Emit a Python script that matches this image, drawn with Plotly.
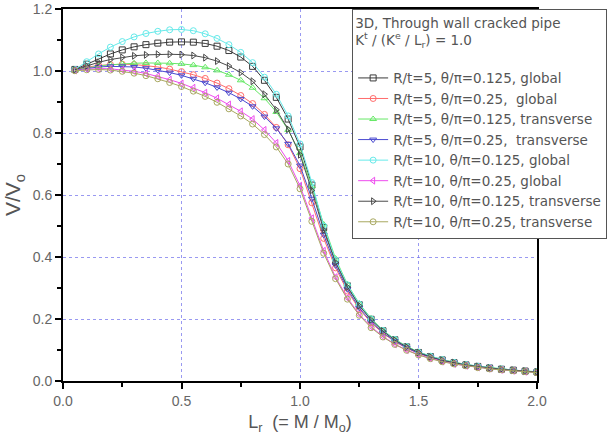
import plotly.graph_objects as go

x_vals = [round(0.05 * k, 2) for k in range(1, 41)]

r5_125_global = [1.005, 1.022, 1.040, 1.055, 1.068, 1.078, 1.085, 1.090, 1.093, 1.094,
                 1.093, 1.089, 1.080, 1.066, 1.045, 1.015, 0.970, 0.915, 0.845, 0.755,
                 0.632, 0.495, 0.387, 0.307, 0.246, 0.199, 0.162, 0.133, 0.110, 0.092,
                 0.079, 0.068, 0.059, 0.052, 0.047, 0.042, 0.038, 0.035, 0.032, 0.029]
r5_25_global = [1.003, 1.012, 1.018, 1.021, 1.022, 1.021, 1.018, 1.013, 1.006, 0.998,
                0.988, 0.976, 0.961, 0.943, 0.921, 0.895, 0.860, 0.818, 0.762, 0.685,
                0.575, 0.460, 0.365, 0.290, 0.232, 0.188, 0.154, 0.127, 0.106, 0.089,
                0.076, 0.066, 0.058, 0.051, 0.045, 0.041, 0.037, 0.034, 0.031, 0.028]
r5_125_trans = [1.003, 1.010, 1.016, 1.020, 1.023, 1.025, 1.026, 1.026, 1.025, 1.023,
                1.019, 1.012, 1.002, 0.988, 0.970, 0.946, 0.912, 0.868, 0.810, 0.735,
                0.628, 0.505, 0.395, 0.312, 0.250, 0.202, 0.164, 0.135, 0.112, 0.094,
                0.080, 0.069, 0.060, 0.053, 0.048, 0.043, 0.039, 0.035, 0.032, 0.030]
r5_25_trans = [1.002, 1.008, 1.013, 1.015, 1.015, 1.013, 1.009, 1.003, 0.995, 0.986,
               0.975, 0.962, 0.947, 0.930, 0.910, 0.886, 0.853, 0.815, 0.765, 0.695,
               0.588, 0.472, 0.373, 0.296, 0.236, 0.191, 0.156, 0.129, 0.107, 0.090,
               0.077, 0.066, 0.058, 0.051, 0.046, 0.041, 0.037, 0.034, 0.031, 0.029]
r10_125_global = [1.005, 1.030, 1.055, 1.077, 1.095, 1.110, 1.121, 1.128, 1.133, 1.134,
                  1.130, 1.120, 1.105, 1.085, 1.060, 1.027, 0.980, 0.925, 0.855, 0.765,
                  0.640, 0.500, 0.390, 0.310, 0.248, 0.200, 0.163, 0.134, 0.111, 0.093,
                  0.080, 0.069, 0.060, 0.053, 0.048, 0.043, 0.039, 0.035, 0.032, 0.030]
r10_25_global = [1.002, 1.006, 1.008, 1.007, 1.004, 0.999, 0.992, 0.983, 0.972, 0.960,
                 0.946, 0.930, 0.912, 0.892, 0.870, 0.845, 0.810, 0.768, 0.710, 0.630,
                 0.525, 0.420, 0.335, 0.268, 0.215, 0.175, 0.144, 0.119, 0.100, 0.085,
                 0.073, 0.063, 0.055, 0.049, 0.044, 0.040, 0.036, 0.033, 0.030, 0.028]
r10_125_trans = [1.004, 1.016, 1.028, 1.037, 1.044, 1.049, 1.052, 1.054, 1.054, 1.053,
                 1.050, 1.043, 1.032, 1.016, 0.995, 0.967, 0.925, 0.875, 0.812, 0.730,
                 0.615, 0.487, 0.382, 0.303, 0.243, 0.197, 0.161, 0.132, 0.110, 0.092,
                 0.078, 0.067, 0.059, 0.052, 0.047, 0.042, 0.038, 0.035, 0.032, 0.029]
r10_25_trans = [1.001, 1.004, 1.005, 1.003, 0.999, 0.993, 0.985, 0.975, 0.963, 0.950,
                0.935, 0.918, 0.899, 0.878, 0.855, 0.829, 0.795, 0.755, 0.700, 0.620,
                0.515, 0.412, 0.330, 0.264, 0.212, 0.172, 0.142, 0.118, 0.099, 0.084,
                0.072, 0.062, 0.055, 0.049, 0.043, 0.039, 0.036, 0.033, 0.030, 0.027]

series_names = [
    "R/t=5, θ/π=0.125, global",
    "R/t=5, θ/π=0.25,  global",
    "R/t=5, θ/π=0.125, transverse",
    "R/t=5, θ/π=0.25,  transverse",
    "R/t=10, θ/π=0.125, global",
    "R/t=10, θ/π=0.25, global",
    "R/t=10, θ/π=0.125, transverse",
    "R/t=10, θ/π=0.25, transverse",
]
series_values = [r5_125_global, r5_25_global, r5_125_trans, r5_25_trans,
                 r10_125_global, r10_25_global, r10_125_trans, r10_25_trans]
series_colors = ["#3a3a3a", "#ff6b6b", "#66e866", "#4a4ad0",
                 "#66eaea", "#ee4cee", "#4a4a4a", "#a8a860"]
series_symbols = ["square-open", "circle-open", "triangle-up-open", "triangle-down-open",
                  "circle-open", "triangle-left-open", "triangle-right-open", "circle-open"]

x_ticks = [0.0, 0.5, 1.0, 1.5, 2.0]
y_ticks = [0.0, 0.2, 0.4, 0.6, 0.8, 1.0, 1.2]

fig = go.Figure()
for name, vals, col, sym in zip(series_names, series_values, series_colors, series_symbols):
    fig.add_trace(go.Scatter(
        x=x_vals, y=vals, name=name, mode="lines+markers",
        line=dict(color=col, width=1),
        marker=dict(symbol=sym, size=6, color=col, line=dict(color=col, width=1)),
    ))

font_family = "Liberation Sans, Arial, sans-serif"
legend_family = "DejaVu Sans, Liberation Sans, sans-serif"
grid_col = "rgba(110,110,235,0.7)"

fig.update_layout(
    width=611, height=435,
    margin=dict(l=63, r=74, t=9, b=54, autoexpand=False),
    paper_bgcolor="white", plot_bgcolor="white",
    font=dict(family=font_family, color="#555555", size=13),
    showlegend=True,
    legend=dict(
        x=0.61, y=1.0, xanchor="left", yanchor="top",
        bgcolor="white", bordercolor="#555555", borderwidth=1,
        font=dict(family=legend_family, size=13.5, color="#555555"),
        title=dict(text="3D, Through wall cracked pipe<br>K<sup>t</sup> / (K<sup>e</sup> / L<sub>r</sub>) = 1.0<br> ",
                   font=dict(family=legend_family, size=13.5, color="#555555")),
        tracegroupgap=0, itemwidth=30,
    ),
    xaxis=dict(
        range=[0, 2.0], tickvals=x_ticks, ticktext=[f"{v:.1f}" for v in x_ticks],
        showline=True, linecolor="black", linewidth=2, mirror=True,
        ticks="outside", ticklen=6, tickwidth=2, tickcolor="black",
        minor=dict(ticks="outside", ticklen=4, tickwidth=2, tickcolor="black", dtick=0.25, showgrid=False),
        showgrid=True, gridcolor=grid_col, griddash="dot", gridwidth=1,
        zeroline=False, ticklabeloverflow="allow",
        tickfont=dict(size=14, color="#666666"),
        title=dict(text="L<sub>r</sub>  (= M / M<sub>o</sub>)", font=dict(size=18, color="#555555"), standoff=12),
    ),
    yaxis=dict(
        range=[0, 1.2], tickvals=y_ticks, ticktext=[f"{v:.1f}" for v in y_ticks],
        showline=True, linecolor="black", linewidth=2, mirror=True,
        ticks="outside", ticklen=6, tickwidth=2, tickcolor="black",
        minor=dict(ticks="outside", ticklen=4, tickwidth=2, tickcolor="black", dtick=0.1, showgrid=False),
        showgrid=True, gridcolor=grid_col, griddash="dot", gridwidth=1,
        zeroline=False, ticklabeloverflow="allow",
        tickfont=dict(size=14, color="#666666"),
        title=dict(text="V/V<sub>o</sub>", font=dict(size=21, color="#555555"), standoff=6),
    ),
)

fig.write_html("out.html")
